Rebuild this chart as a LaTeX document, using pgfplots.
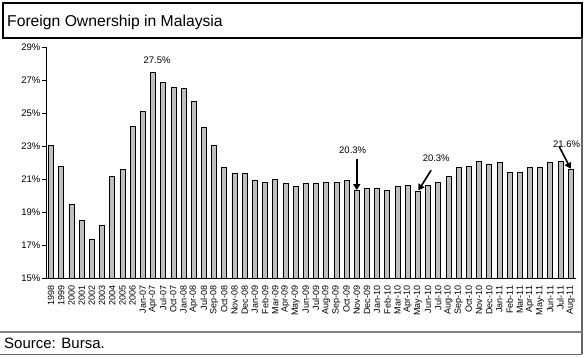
\documentclass[border=0pt]{standalone}
\usepackage{pgfplots}
\pgfplotsset{compat=1.18}
\usetikzlibrary{arrows.meta}
\usepackage{fontspec}
\setmainfont{Liberation Sans}
\begin{document}
\begin{tikzpicture}[x=1pt,y=1pt]
\path[use as bounding box] (0,0) rectangle (586,358);
% frame
\draw[line width=1.2pt] (3,355) rectangle (582,320);
\node[anchor=base west, inner sep=0pt, font=\fontsize{15.7}{15.7}\selectfont] at (7,331.3) {Foreign Ownership in Malaysia};
\draw[line width=1.2pt, gray!80!black] (582,320) -- (582,3.5);
\draw[line width=2.5pt, gray] (0,26) -- (582,26);
\draw[line width=1.2pt, gray!80!black] (0,3.5) -- (582,3.5);
\node[anchor=base west, inner sep=0pt, font=\fontsize{15}{15}\selectfont] at (4,9) {Source: Bursa.};
\begin{axis}[
  at={(46pt,79.3pt)}, anchor=south west,
  scale only axis, width=529.8pt, height=231.4pt,
  xmin=-0.5, xmax=51.5, ymin=15, ymax=29,
  axis x line=bottom, axis y line=left,
  axis line style={-, line width=0.9pt},
  ytick={15,17,...,29},
  yticklabel={\pgfmathprintnumber{\tick}\%},
  /pgf/number format/assume math mode=true,
  yticklabel style={font=\fontsize{9.5}{9.5}\selectfont, inner sep=1.5pt},
  tick align=outside,
  major tick length=4pt,
  y tick style={line width=0.9pt, black},
  xtick={0,...,51},
  x tick style={draw=none},
  minor xtick={-0.5,0.5,...,51.5},
  minor tick length=4.5pt,
  minor x tick style={line width=0.9pt, black},
  xticklabels={1998,1999,2000,2001,2002,2003,2004,2005,2006,Jan-07,Apr-07,Jul-07,Oct-07,Jan-08,Apr-08,Jul-08,Sep-08,Oct-08,Nov-08,Dec-08,Jan-09,Feb-09,Mar-09,Apr-09,May-09,Jun-09,Jul-09,Aug-09,Sep-09,Oct-09,Nov-09,Dec-09,Jan-10,Feb-10,Mar-10,Apr-10,May-10,Jun-10,Jul-10,Aug-10,Sep-10,Oct-10,Nov-10,Dec-10,Jan-11,Feb-11,Mar-11,Apr-11,May-11,Jun-11,Jul-11,Aug-11},
  xticklabel style={rotate=90, anchor=east, font=\fontsize{9}{9}\selectfont, inner sep=0pt, yshift=0pt, xshift=-3pt},
  clip=false,
]
\addplot[ybar, bar width=5pt, bar shift=0pt, fill=gray!50, draw=black, line width=0.7pt] coordinates {
(0,23.06) (1,21.8) (2,19.5) (3,18.5) (4,17.4) (5,18.2) (6,21.2) (7,21.6) (8,24.2)
(9,25.1) (10,27.5) (11,26.9) (12,26.6) (13,26.5) (14,25.7) (15,24.15) (16,23.06)
(17,21.75) (18,21.4) (19,21.4)
(20,20.95) (21,20.83) (22,21.0) (23,20.77) (24,20.6) (25,20.77) (26,20.77) (27,20.83) (28,20.83) (29,20.95) (30,20.34) (31,20.46)
(32,20.46) (33,20.34) (34,20.58) (35,20.65) (36,20.3) (37,20.65) (38,20.83) (39,21.2) (40,21.73) (41,21.8) (42,22.1) (43,21.9)
(44,22.04) (45,21.43) (46,21.43) (47,21.73) (48,21.73) (49,22.04) (50,22.1) (51,21.6)
};
\node[font=\fontsize{9.5}{9.5}\selectfont] at (axis cs:10.4,28.23) {27.5\%};
\node[font=\fontsize{9.5}{9.5}\selectfont] at (axis cs:29.6,22.79) {20.3\%};
\draw[-{Triangle[length=6pt,width=7pt]}, line width=1.6pt] (axis cs:30,22.24) -- (axis cs:30,20.36);
\node[font=\fontsize{9.5}{9.5}\selectfont] at (axis cs:37.8,22.3) {20.3\%};
\draw[-{Triangle[length=6pt,width=7pt]}, line width=1.6pt] (axis cs:37.3,21.56) -- (axis cs:36.05,20.34);
\node[font=\fontsize{9.5}{9.5}\selectfont] at (axis cs:50.6,23.15) {21.6\%};
\draw[-{Triangle[length=6pt,width=7pt]}, line width=1.6pt] (axis cs:49.85,23.02) -- (axis cs:51.0,21.65);
\end{axis}
\end{tikzpicture}
\end{document}
